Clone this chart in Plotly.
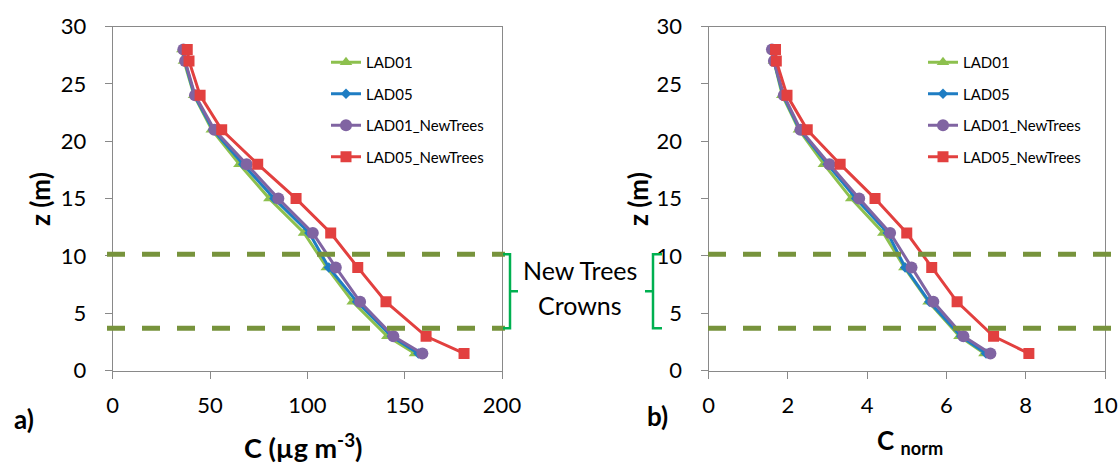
import plotly.graph_objects as go

W, H = 1120, 464

# heights (m)
z = [28, 27, 24, 21, 18, 15, 12, 9, 6, 3, 1.5]

# panel a) concentration C (ug m-3)
c_lad01 = [35.8, 36.6, 41.8, 50.9, 65.1, 80.5, 98.3, 110.0, 123.3, 141.1, 155.3]
c_lad05 = [36.0, 37.0, 42.0, 51.5, 67.0, 83.0, 101.0, 111.0, 125.5, 143.3, 157.0]
c_lad01_nt = [36.3, 37.2, 42.3, 52.2, 68.8, 85.1, 102.8, 114.6, 127.1, 144.2, 159.1]
c_lad05_nt = [38.3, 39.2, 44.9, 56.0, 74.5, 94.2, 112.0, 125.9, 140.4, 161.0, 180.5]

# panel b) normalised concentration
cn_lad01 = [1.62, 1.65, 1.86, 2.28, 2.91, 3.60, 4.41, 4.94, 5.55, 6.33, 6.96]
cn_lad05 = [1.62, 1.65, 1.88, 2.30, 3.00, 3.72, 4.52, 4.96, 5.57, 6.37, 7.00]
cn_lad01_nt = [1.60, 1.65, 1.90, 2.32, 3.05, 3.80, 4.58, 5.12, 5.67, 6.43, 7.11]
cn_lad05_nt = [1.69, 1.71, 1.98, 2.49, 3.32, 4.20, 5.00, 5.63, 6.27, 7.19, 8.08]

series_names = ["LAD01", "LAD05", "LAD01_NewTrees", "LAD05_NewTrees"]
crown_bounds = [10.15, 3.7]

colors = ["#8DC04E", "#1F7DC3", "#8064A2", "#E2403F"]
symbols = ["triangle-up", "diamond", "circle", "square"]
sizes = [11, 8, 12, 11]

FONT = "Lato"

def px_x(p):
    return p / W

def px_y(p):
    return 1 - p / H

fig = go.Figure()

left_data = [c_lad01, c_lad05, c_lad01_nt, c_lad05_nt]
right_data = [cn_lad01, cn_lad05, cn_lad01_nt, cn_lad05_nt]

for i, name in enumerate(series_names):
    fig.add_trace(go.Scatter(
        x=left_data[i], y=z, mode="lines+markers", name=name,
        line=dict(color=colors[i], width=3),
        marker=dict(symbol=symbols[i], size=sizes[i], color=colors[i]),
        xaxis="x", yaxis="y", legend="legend", legendgroup="a" + name))
for i, name in enumerate(series_names):
    fig.add_trace(go.Scatter(
        x=right_data[i], y=z, mode="lines+markers", name=name,
        line=dict(color=colors[i], width=3),
        marker=dict(symbol=symbols[i], size=sizes[i], color=colors[i]),
        xaxis="x2", yaxis="y2", legend="legend2", legendgroup="b" + name))

axis_common = dict(showgrid=False, zeroline=False, showline=True,
                   linecolor="#898989", linewidth=1, mirror=True,
                   ticks="outside", ticklen=7, tickcolor="#898989",
                   automargin=False,
                   tickfont=dict(family=FONT, size=22, color="#000"))

ydom = [px_y(370.7), px_y(26.5)]

fig.update_layout(
    width=W, height=H,
    margin=dict(l=0, r=0, t=0, b=0, autoexpand=False),
    paper_bgcolor="white", plot_bgcolor="white",
    font=dict(family=FONT, color="#000"),
    xaxis=dict(domain=[px_x(112.7), px_x(502)], range=[0, 200], dtick=50,
               anchor="y", ticklabelstandoff=8, **axis_common),
    yaxis=dict(domain=ydom, range=[0, 30], dtick=5, anchor="x",
               ticklabelstandoff=14, **axis_common),
    xaxis2=dict(domain=[px_x(708.5), px_x(1105)], range=[0, 10], dtick=2,
                anchor="y2", ticklabelstandoff=8, **axis_common),
    yaxis2=dict(domain=ydom, range=[0, 30], dtick=5, anchor="x2",
                ticklabelstandoff=14, **axis_common),
    legend=dict(x=px_x(326), y=px_y(46), xanchor="left", yanchor="top",
                font=dict(family=FONT, size=15, color="#000"),
                bgcolor="rgba(0,0,0,0)", itemwidth=30, tracegroupgap=9),
    legend2=dict(x=px_x(923), y=px_y(46), xanchor="left", yanchor="top",
                 font=dict(family=FONT, size=15, color="#000"),
                 bgcolor="rgba(0,0,0,0)", itemwidth=30, tracegroupgap=9),
)

shapes = []
dash_col = "#77933C"
for b in crown_bounds:
    shapes.append(dict(type="line", xref="paper", yref="y",
                       x0=px_x(107), x1=px_x(505), y0=b, y1=b,
                       line=dict(color=dash_col, width=5, dash="18px,17px")))
    shapes.append(dict(type="line", xref="paper", yref="y2",
                       x0=px_x(708), x1=px_x(1120), y0=b, y1=b,
                       line=dict(color=dash_col, width=5, dash="18px,17px")))

top, bot = crown_bounds[0], crown_bounds[1]
mid = (top + bot) / 2
brace_col = "#00B050"
xl, xv, xt = px_x(503), px_x(510), px_x(518)
shapes.append(dict(type="path", xref="paper", yref="y",
                   path=f"M {xl},{top} L {xv},{top} L {xv},{bot} L {xl},{bot} M {xv},{mid} L {xt},{mid}",
                   line=dict(color=brace_col, width=2.5)))
xr, xv2, xt2 = px_x(662), px_x(653), px_x(645)
shapes.append(dict(type="path", xref="paper", yref="y2",
                   path=f"M {xr},{top} L {xv2},{top} L {xv2},{bot} L {xr},{bot} M {xv2},{mid} L {xt2},{mid}",
                   line=dict(color=brace_col, width=2.5)))
fig.update_layout(shapes=shapes)

ann = []
def add_text(text, x, y, size, bold=False, angle=0):
    if bold:
        text = f"<b>{text}</b>"
    ann.append(dict(text=text, x=px_x(x), y=px_y(y), xref="paper", yref="paper",
                    xanchor="center", yanchor="middle", showarrow=False,
                    textangle=angle, font=dict(family=FONT, size=size, color="#000")))

add_text("New Trees", 580, 270, 25)
add_text("Crowns", 580, 305, 25)
add_text("C (µg m<sup>-3</sup>)", 303, 446, 27, bold=True)
add_text("C <sub>norm</sub>", 910, 441, 26, bold=True)
add_text("z (m)", 40, 199, 26, bold=True, angle=-90)
add_text("z (m)", 638, 199, 26, bold=True, angle=-90)
add_text("a)", 24, 419, 26, bold=True)
add_text("b)", 657, 416, 26, bold=True)
fig.update_layout(annotations=ann)

fig.write_html("out.html")
